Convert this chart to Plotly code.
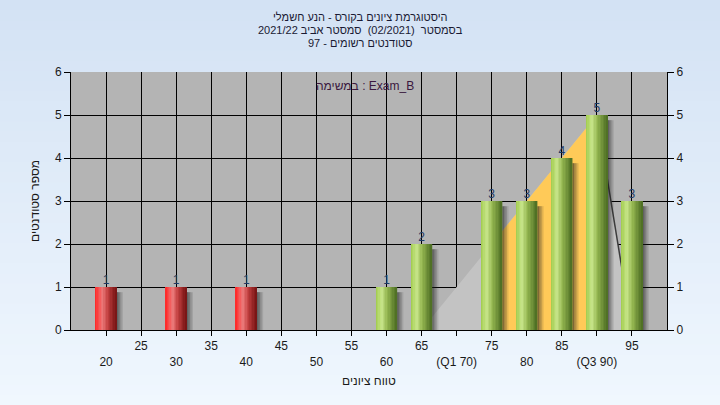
import plotly.graph_objects as go

# ---------------- data ----------------
bins = [20, 30, 40, 60, 65, 75, 80, 85, 90, 95]
counts = [1, 1, 1, 1, 2, 3, 3, 4, 5, 3]
passed = [False, False, False, True, True, True, True, True, True, True]

curve_x = [65, 90, 95]
curve_y = [0, 5, 0]
band_x = [75, 90]
band_y = [2, 5]

minor_ticks = [25, 35, 45, 55, 65, 75, 85, 95]
major_ticks = [20, 30, 40, 50, 60, 70, 80, 90]
major_labels = ["20", "30", "40", "50", "60", "(Q1 70)", "80", "(Q3 90)"]

title_lines = [
    "היסטוגרמת ציונים בקורס - הנע חשמלי",
    "בסמסטר  (02/2021)  סמסטר אביב 2021/22",
    "סטודנטים רשומים - 97",
]
task_label = "במשימה : Exam_B"
x_title = "טווח ציונים"
y_title = "מספר סטודנטים"

# ---------------- style helpers ----------------
FONT = "Liberation Sans, Arial, sans-serif"
L, R, T, B = 71, 53, 72, 75
W, H = 720, 405
PW, PH = W - L - R, H - T - B


def hex2rgb(h):
    h = h.lstrip('#')
    return tuple(int(h[i:i + 2], 16) for i in (0, 2, 4))


def grad(stops, t):
    for (t0, c0), (t1, c1) in zip(stops[:-1], stops[1:]):
        if t0 <= t <= t1:
            f = (t - t0) / (t1 - t0) if t1 > t0 else 0
            a, b = hex2rgb(c0), hex2rgb(c1)
            return "rgb(%d,%d,%d)" % tuple(round(a[i] + (b[i] - a[i]) * f) for i in range(3))
    return stops[-1][1]


green_stops = [(0, '#9fcb4a'), (0.28, '#c8e58a'), (0.55, '#94b650'), (1, '#4b6b22')]
red_stops = [(0, '#ff2424'), (0.35, '#ec7b7b'), (0.6, '#c24040'), (1, '#741212')]

fig = go.Figure()

# distribution area behind bars (main subplot x/y)
fig.add_trace(go.Scatter(x=curve_x, y=curve_y, fill='toself', fillcolor='#c3c3c3',
                         mode='lines', line=dict(width=0), hoverinfo='skip'))
fig.add_trace(go.Scatter(x=[band_x[0], band_x[0], band_x[1], band_x[1]],
                         y=[0, band_y[0], band_y[1], 0], fill='toself',
                         fillcolor='#ffca58', mode='lines', line=dict(width=0),
                         hoverinfo='skip'))
fig.add_trace(go.Scatter(x=curve_x[1:], y=curve_y[1:], mode='lines',
                         line=dict(color='#3c3c3c', width=1.5), hoverinfo='skip'))

BW = 3.0
# shadows (overlay subplot x2/y2 so they sit above the area)
shadow_alpha = [0.55, 0.4, 0.25, 0.12]
for i, a in enumerate(shadow_alpha):
    fig.add_trace(go.Bar(x=bins, y=[c - 0.12 for c in counts], offset=BW / 2 + i * 0.22,
                         width=0.24, marker=dict(color='rgba(30,30,30,%.2f)' % a, line=dict(width=0)),
                         hoverinfo='skip', xaxis='x2', yaxis='y2'))

# bars with cylinder gradient
N = 15
sw = BW / N
for i in range(N):
    t = (i + 0.5) / N
    cols = [grad(green_stops if p else red_stops, t) for p in passed]
    fig.add_trace(go.Bar(x=bins, y=counts, offset=-BW / 2 + i * sw, width=sw * 1.08,
                         marker=dict(color=cols, line=dict(width=0)), hoverinfo='skip',
                         xaxis='x2', yaxis='y2'))

# value labels
fig.add_trace(go.Scatter(x=bins, y=counts, mode='text', text=[str(c) for c in counts],
                         textposition='top center',
                         textfont=dict(family=FONT, size=12, color='#1e3a66'),
                         xaxis='x2', yaxis='y2', hoverinfo='skip'))

# background gradient bands + plot bg
shapes = []
top_c, bot_c = '#d3e2f4', '#f0f7fe'
nb = 40
y0p, y1p = -B / PH, 1 + T / PH
for k in range(nb):
    ya = y0p + (y1p - y0p) * k / nb
    yb = y0p + (y1p - y0p) * (k + 1) / nb + 0.005
    t = (k + 0.5) / nb
    shapes.append(dict(type='rect', xref='paper', yref='paper', x0=-L / PW - 0.01, x1=1 + R / PW + 0.01,
                       y0=ya, y1=yb, fillcolor=grad([(0, bot_c), (1, top_c)], t),
                       line=dict(width=0), layer='below'))
shapes.append(dict(type='rect', xref='paper', yref='paper', x0=0, x1=1, y0=0, y1=1,
                   fillcolor='#b4b4b4', line=dict(width=0), layer='below'))

annotations = []
for j, line in enumerate(title_lines):
    ypix = 17 + 13 * j
    annotations.append(dict(text='\u202b' + line + '\u202c', xref='paper', yref='paper',
                            x=(360 - L) / PW, y=(H - B - ypix) / PH, showarrow=False,
                            xanchor='center', yanchor='middle',
                            font=dict(family=FONT, size=11, color='#1a1a33')))
annotations.append(dict(text=task_label, xref='paper', yref='paper', x=(365 - L) / PW,
                        y=(H - B - 86) / PH, showarrow=False, xanchor='center', yanchor='middle',
                        font=dict(family=FONT, size=12, color='#3a1840')))
annotations.append(dict(text=x_title, xref='paper', yref='paper', x=(369 - L) / PW,
                        y=(H - B - 381) / PH, showarrow=False, xanchor='center', yanchor='middle',
                        font=dict(family=FONT, size=12, color='#1a1a1a')))
annotations.append(dict(text=y_title, xref='paper', yref='paper', x=(35 - L) / PW,
                        y=0.5, showarrow=False, xanchor='center', yanchor='middle', textangle=-90,
                        font=dict(family=FONT, size=12, color='#1a1a1a')))

tickfont = dict(family=FONT, size=12, color='#1a1a1a')
fig.update_layout(
    width=W, height=H, margin=dict(l=L, r=R, t=T, b=B),
    paper_bgcolor='#e6f0fa', plot_bgcolor='rgba(0,0,0,0)',
    barmode='overlay', showlegend=False, hovermode=False,
    shapes=shapes, annotations=annotations,
    xaxis=dict(range=[15, 100], tickmode='array', tickvals=minor_ticks,
               ticktext=[str(v) for v in minor_ticks], showgrid=True, gridcolor='#000000',
               gridwidth=1, ticks='outside', ticklen=5, tickcolor='#000', tickfont=tickfont,
               ticklabelstandoff=0,
               showline=True, linecolor='#000', zeroline=False, fixedrange=True),
    xaxis2=dict(range=[15, 100], overlaying='x', side='bottom', tickmode='array',
                tickvals=major_ticks, ticktext=major_labels, showgrid=True, gridcolor='#000000',
                ticks='outside', ticklen=5, tickcolor='#000', tickfont=tickfont,
                ticklabelstandoff=16, zeroline=False, showline=False),
    yaxis=dict(range=[0, 6], dtick=1, showgrid=True, gridcolor='#000000', gridwidth=1,
               ticks='outside', ticklen=6, tickcolor='#000', tickfont=tickfont,
               showline=True, linecolor='#000', zeroline=False, mirror=False),
    yaxis2=dict(range=[0, 6], dtick=1, overlaying='y', side='right', showgrid=False,
                ticks='outside', ticklen=6, tickcolor='#000', tickfont=tickfont,
                showline=True, linecolor='#000', zeroline=False),
)

fig.write_html("out.html", config={'displayModeBar': False},
               post_script="document.body.style.margin='0';")
